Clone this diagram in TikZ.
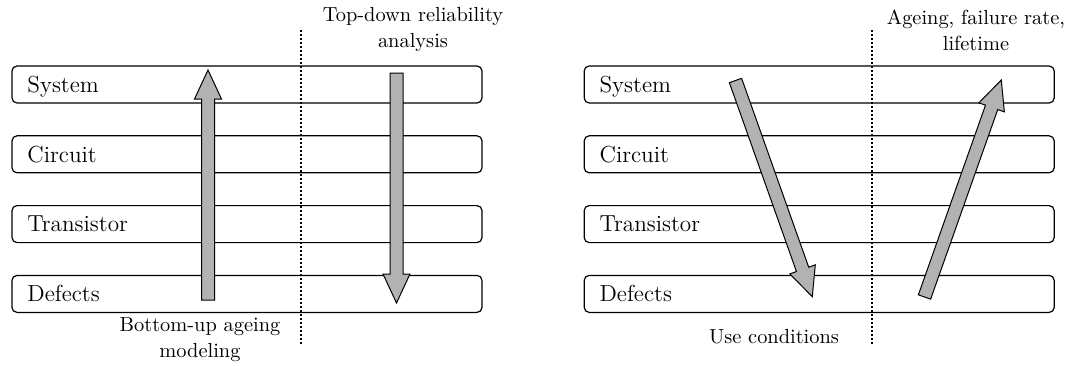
\documentclass[tikz,border=0pt]{standalone}
\usetikzlibrary{positioning,calc}
\newcommand\fatarrow[2]{%
  \draw[fat] let \p1=($(#2)-(#1)$),\n1={atan2(\y1,\x1)},\n2={veclen(\x1,\y1)} in
    {[shift={(#1)},rotate=\n1] (0pt,3.25pt)--({\n2*1pt-14.5pt},3.25pt)--({\n2*1pt-14.5pt},6.75pt)--({\n2*1pt},0pt)
    --({\n2*1pt-14.5pt},-6.75pt)--({\n2*1pt-14.5pt},-3.25pt)--(0pt,-3.25pt)--cycle};}
\begin{document}
\begin{tikzpicture}[x=0.5pt,y=-0.5pt,
  box/.style={draw,line width=0.6pt,rounded corners=2.5pt,minimum width=235pt,minimum height=18.5pt,text width=219.6pt,inner xsep=7.7pt,align=left,text height=7.7pt,text depth=0pt,font=\fontsize{11.6pt}{13pt}\selectfont},
  fat/.style={draw,line width=0.5pt,fill=black!30,line join=miter},
  sep/.style={line width=0.6pt,dash pattern=on 1pt off 1pt},
  lbl/.style={align=center,font=\fontsize{10.2pt}{13pt}\selectfont}]
\useasboundingbox (0,0) rectangle (1084,365);
\node[box] (systemL) at (247,84.5) {System};
\node[box,below=15.8pt of systemL] (circuitL) {Circuit};
\node[box,below=15.8pt of circuitL] (transL) {Transistor};
\node[box,below=15.8pt of transL] (defectsL) {Defects};
\node[box,right=50.5pt of systemL] (systemR) {System};
\node[box,below=15.8pt of systemR] (circuitR) {Circuit};
\node[box,below=15.8pt of circuitR] (transR) {Transistor};
\node[box,below=15.8pt of transR] (defectsR) {Defects};
\coordinate (divLtop) at (301,30);
\coordinate (divLbot) at (301,345);
\coordinate (divRtop) at (872,30);
\coordinate (divRbot) at (872,345);
\draw[sep] (divLtop)--(divLbot);
\draw[sep] (divRtop)--(divRbot);
\coordinate (upLtail) at (208,300);
\coordinate (upLtip) at (208,70);
\coordinate (downLtail) at (396.5,73);
\coordinate (downLtip) at (396.5,303);
\coordinate (downRtail) at (735.5,80.5);
\coordinate (downRtip) at (812.3,296.7);
\coordinate (upRtail) at (924.5,297);
\coordinate (upRtip) at (1001.3,80);
\fatarrow{upLtail}{upLtip}
\fatarrow{downLtail}{downLtip}
\fatarrow{downRtail}{downRtip}
\fatarrow{upRtail}{upRtip}
\node[lbl] (topdown) at (413,30) {Top-down reliability\\analysis};
\node[lbl] (bottomup) at (200,339.5) {Bottom-up ageing\\modeling};
\node[lbl] (ageing) at (976,30) {Ageing, failure rate,\\lifetime};
\node[lbl] (usecond) at (774,337) {Use conditions};
\end{tikzpicture}
\end{document}
